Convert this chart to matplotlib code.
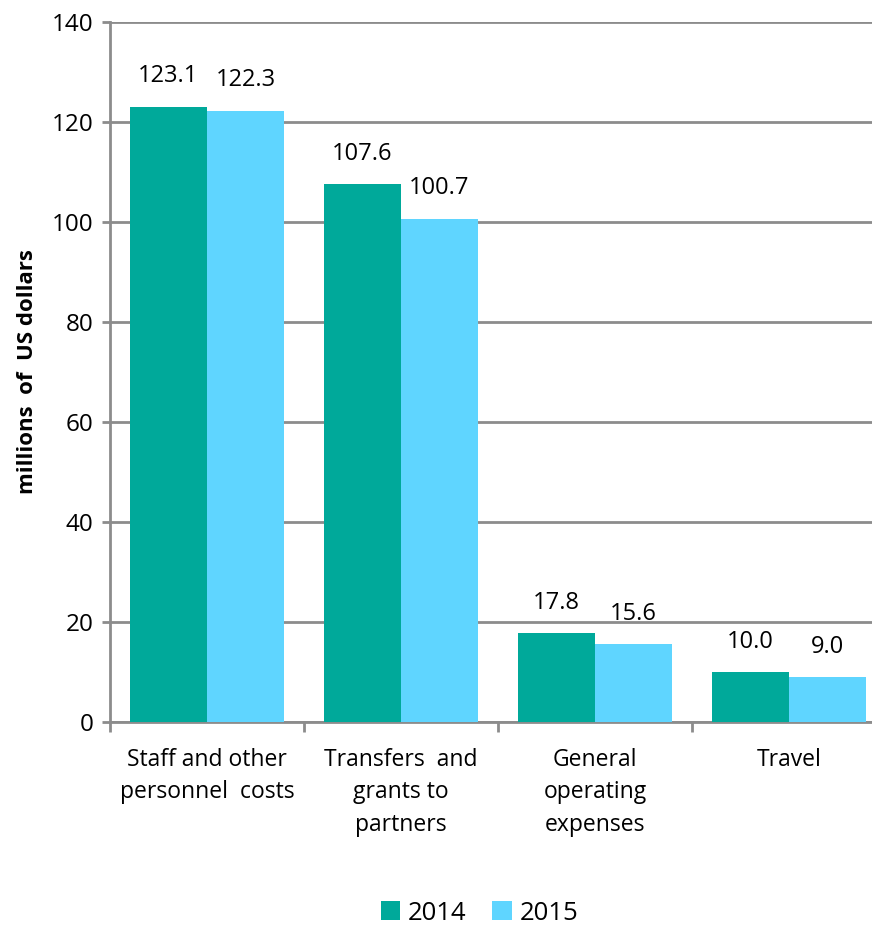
import matplotlib.pyplot as plt
import numpy as np

#data
categories = ["Staff and other\npersonnel  costs", "Transfers  and\ngrants to\npartners",
              "General\noperating\nexpenses", "Travel"]
values_2014 = [123.1, 107.6, 17.8, 10.0]
values_2015 = [122.3, 100.7, 15.6, 9.0]
years = ["2014", "2015"]
colors = ["#00A99A", "#5FD5FF"]

plt.rcParams['font.family'] = ['Open Sans', 'DejaVu Sans']
grid_col = "#8C8C8C"

fig = plt.figure(figsize=(8.72, 9.26), dpi=100)
#plot area runs past the right edge of the picture like the source
ax = fig.add_axes([110/872, 1-722/926, 776/872, 700/926])

x = np.arange(len(categories))
w = 0.397
bars = []
for i, vals in enumerate([values_2014, values_2015]):
    b = ax.bar(x + (i - 0.5)*w, vals, w, color=colors[i], label=years[i], zorder=3)
    bars.append(b)
    for rect, v in zip(b, vals):
        ax.annotate(f"{v:.1f}", (rect.get_x() + rect.get_width()/2, v),
                    xytext=(0, 13), textcoords="offset points",
                    ha="center", va="bottom", fontsize=17)

ax.set_ylim(0, 140)
ax.set_xlim(-0.5, len(categories) - 0.5)
ax.set_yticks(range(0, 141, 20))
ax.tick_params(axis='y', labelsize=17.5, length=6, width=2, color=grid_col, direction='out', pad=6)
ax.yaxis.grid(True, color=grid_col, linewidth=2, zorder=0)
ax.set_axisbelow(True)

ax.set_xticks(x)
ax.set_xticklabels(categories, fontsize=16.5, linespacing=1.45)
ax.tick_params(axis='x', length=0, pad=19)
#category boundary ticks
ax.set_xticks(np.arange(-0.5, len(categories), 1), minor=True)
ax.tick_params(axis='x', which='minor', length=7, width=2, color=grid_col)

for s in ["top", "right"]:
    ax.spines[s].set_visible(False)
for s in ["left", "bottom"]:
    ax.spines[s].set_color(grid_col)
    ax.spines[s].set_linewidth(2)

ax.set_ylabel("millions  of  US dollars", fontsize=16, fontweight="bold", labelpad=10)

fig.legend(handles=bars, labels=years, loc="center", bbox_to_anchor=(0.55, 1-913/926),
           ncol=2, frameon=False, fontsize=18.5, handlelength=0.75, handleheight=0.75,
           handletextpad=0.3, columnspacing=1.0)

plt.savefig("out.png", dpi=100)
